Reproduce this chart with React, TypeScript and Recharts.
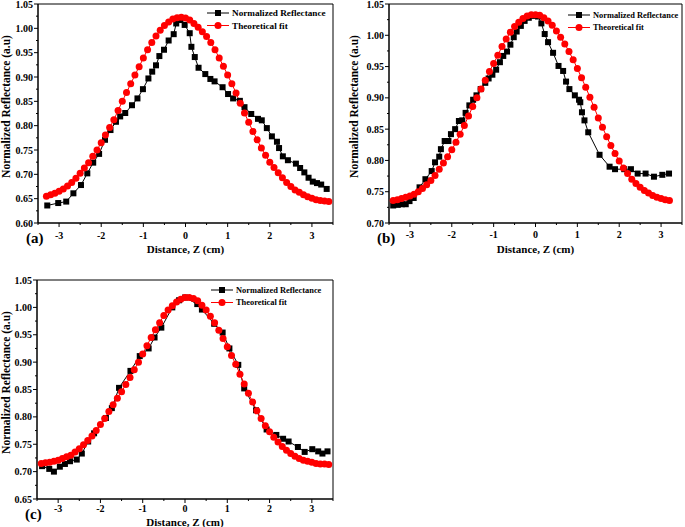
import { LineChart, Line, XAxis, YAxis, Legend, Label, ReferenceArea } from 'recharts';

const FONT = '"Liberation Serif", "Times New Roman", serif';
const RED = '#ff0000';

// x ticks shared by all three panels (integers labelled, halves are minor ticks)
const xTicks = [-3.5, -3, -2.5, -2, -1.5, -1, -0.5, 0, 0.5, 1, 1.5, 2, 2.5, 3, 3.5];

// ---- panel (a)
const aMeasX = [-3.28, -3.02, -2.83, -2.66, -2.48, -2.33, -2.19, -2.05, -1.91, -1.78, -1.65, -1.55, -1.43, -1.27, -1.14, -1.01, -0.88, -0.79, -0.7, -0.62, -0.51, -0.4, -0.28, -0.22, -0.12, -0.02, 0.1, 0.14, 0.22, 0.31, 0.47, 0.59, 0.69, 0.88, 1.01, 1.13, 1.29, 1.4, 1.56, 1.72, 1.81, 1.93, 2.05, 2.17, 2.22, 2.31, 2.43, 2.62, 2.72, 2.82, 2.92, 3.02, 3.12, 3.22, 3.35];
const aMeasY = [0.636, 0.641, 0.644, 0.661, 0.678, 0.702, 0.724, 0.742, 0.771, 0.791, 0.808, 0.819, 0.826, 0.842, 0.856, 0.875, 0.897, 0.911, 0.924, 0.943, 0.956, 0.975, 0.988, 1.01, 1.017, 1.007, 0.99, 0.962, 0.941, 0.919, 0.906, 0.896, 0.891, 0.879, 0.865, 0.856, 0.851, 0.838, 0.824, 0.814, 0.811, 0.795, 0.778, 0.767, 0.754, 0.737, 0.729, 0.722, 0.713, 0.704, 0.693, 0.685, 0.682, 0.679, 0.67];
const aFitX = [-3.3, -3.2, -3.1, -3.0, -2.9, -2.8, -2.7, -2.6, -2.5, -2.4, -2.3, -2.2, -2.1, -2.0, -1.9, -1.8, -1.7, -1.6, -1.5, -1.4, -1.3, -1.2, -1.1, -1.0, -0.9, -0.8, -0.7, -0.6, -0.5, -0.4, -0.3, -0.2, -0.1, 0.0, 0.1, 0.2, 0.3, 0.4, 0.5, 0.6, 0.7, 0.8, 0.9, 1.0, 1.1, 1.2, 1.3, 1.4, 1.5, 1.6, 1.7, 1.8, 1.9, 2.0, 2.1, 2.2, 2.3, 2.4, 2.5, 2.6, 2.7, 2.8, 2.9, 3.0, 3.1, 3.2, 3.3, 3.4];
const aFitY = [0.655, 0.658, 0.661, 0.665, 0.67, 0.676, 0.683, 0.692, 0.702, 0.713, 0.724, 0.737, 0.75, 0.765, 0.781, 0.796, 0.812, 0.831, 0.85, 0.868, 0.886, 0.904, 0.921, 0.939, 0.956, 0.971, 0.984, 0.996, 1.006, 1.013, 1.019, 1.022, 1.023, 1.021, 1.017, 1.01, 1.002, 0.993, 0.983, 0.971, 0.956, 0.939, 0.922, 0.904, 0.886, 0.867, 0.846, 0.826, 0.807, 0.788, 0.771, 0.754, 0.739, 0.725, 0.714, 0.703, 0.693, 0.683, 0.675, 0.668, 0.663, 0.658, 0.654, 0.651, 0.648, 0.646, 0.645, 0.644];
const aYTicks = [0.6, 0.625, 0.65, 0.675, 0.7, 0.725, 0.75, 0.775, 0.8, 0.825, 0.85, 0.875, 0.9, 0.925, 0.95, 0.975, 1.0, 1.025, 1.05];

// ---- panel (b)
const bMeasX = [-3.4, -3.29, -3.19, -3.1, -3.01, -2.91, -2.77, -2.63, -2.48, -2.4, -2.3, -2.26, -2.17, -2.08, -2.02, -1.92, -1.83, -1.75, -1.67, -1.58, -1.49, -1.41, -1.31, -1.2, -1.12, -1.03, -0.94, -0.85, -0.77, -0.68, -0.6, -0.52, -0.45, -0.35, -0.26, -0.16, -0.06, 0.06, 0.14, 0.22, 0.3, 0.42, 0.55, 0.66, 0.73, 0.81, 0.94, 1.04, 1.07, 1.11, 1.17, 1.26, 1.53, 1.77, 1.9, 2.12, 2.28, 2.44, 2.63, 2.83, 3.03, 3.19];
const bMeasY = [0.728, 0.729, 0.73, 0.73, 0.735, 0.74, 0.757, 0.77, 0.783, 0.797, 0.806, 0.818, 0.831, 0.831, 0.842, 0.85, 0.863, 0.864, 0.876, 0.888, 0.897, 0.904, 0.914, 0.924, 0.931, 0.937, 0.945, 0.957, 0.967, 0.974, 0.985, 0.997, 1.006, 1.015, 1.023, 1.028, 1.031, 1.03, 1.019, 1.002, 0.989, 0.972, 0.951, 0.943, 0.926, 0.914, 0.904, 0.897, 0.893, 0.877, 0.864, 0.845, 0.809, 0.79, 0.786, 0.786, 0.786, 0.779, 0.779, 0.774, 0.777, 0.779];
const bFitX = [-3.4, -3.3, -3.2, -3.1, -3.0, -2.9, -2.8, -2.7, -2.6, -2.5, -2.4, -2.3, -2.2, -2.1, -2.0, -1.9, -1.8, -1.7, -1.6, -1.5, -1.4, -1.3, -1.2, -1.1, -1.0, -0.9, -0.8, -0.7, -0.6, -0.5, -0.4, -0.3, -0.2, -0.1, 0.0, 0.1, 0.2, 0.3, 0.4, 0.5, 0.6, 0.7, 0.8, 0.9, 1.0, 1.1, 1.2, 1.3, 1.4, 1.5, 1.6, 1.7, 1.8, 1.9, 2.0, 2.1, 2.2, 2.3, 2.4, 2.5, 2.6, 2.7, 2.8, 2.9, 3.0, 3.1, 3.2];
const bFitY = [0.736, 0.737, 0.739, 0.741, 0.743, 0.746, 0.75, 0.755, 0.761, 0.768, 0.776, 0.786, 0.796, 0.806, 0.817, 0.829, 0.842, 0.856, 0.871, 0.886, 0.9, 0.914, 0.928, 0.942, 0.955, 0.968, 0.982, 0.994, 1.005, 1.014, 1.021, 1.027, 1.031, 1.033, 1.033, 1.032, 1.028, 1.023, 1.016, 1.007, 0.997, 0.986, 0.974, 0.961, 0.947, 0.932, 0.917, 0.901, 0.885, 0.868, 0.853, 0.838, 0.824, 0.811, 0.799, 0.788, 0.779, 0.77, 0.763, 0.757, 0.752, 0.748, 0.744, 0.741, 0.739, 0.737, 0.736];
const bYTicks = [0.7, 0.725, 0.75, 0.775, 0.8, 0.825, 0.85, 0.875, 0.9, 0.925, 0.95, 0.975, 1.0, 1.025, 1.05];

// ---- panel (c)
const cMeasX = [-3.38, -3.21, -3.1, -2.96, -2.84, -2.72, -2.56, -2.44, -2.29, -2.15, -1.87, -1.73, -1.56, -1.29, -1.07, -0.86, -0.72, -0.56, -0.3, -0.14, 0.0, 0.29, 0.4, 0.69, 0.89, 1.05, 1.26, 1.4, 1.68, 1.93, 2.16, 2.32, 2.45, 2.67, 2.83, 3.01, 3.15, 3.25, 3.37];
const cMeasY = [0.71, 0.705, 0.7, 0.709, 0.714, 0.719, 0.722, 0.733, 0.755, 0.77, 0.798, 0.816, 0.853, 0.884, 0.911, 0.925, 0.945, 0.963, 1.0, 1.013, 1.018, 1.006, 0.996, 0.97, 0.954, 0.925, 0.895, 0.852, 0.812, 0.777, 0.767, 0.76, 0.755, 0.745, 0.736, 0.741, 0.737, 0.733, 0.737];
const cFitX = [-3.4, -3.3, -3.2, -3.1, -3.0, -2.9, -2.8, -2.7, -2.6, -2.5, -2.4, -2.3, -2.2, -2.1, -2.0, -1.9, -1.8, -1.7, -1.6, -1.5, -1.4, -1.3, -1.2, -1.1, -1.0, -0.9, -0.8, -0.7, -0.6, -0.5, -0.4, -0.3, -0.2, -0.1, 0.0, 0.1, 0.2, 0.3, 0.4, 0.5, 0.6, 0.7, 0.8, 0.9, 1.0, 1.1, 1.2, 1.3, 1.4, 1.5, 1.6, 1.7, 1.8, 1.9, 2.0, 2.1, 2.2, 2.3, 2.4, 2.5, 2.6, 2.7, 2.8, 2.9, 3.0, 3.1, 3.2, 3.3, 3.4];
const cFitY = [0.715, 0.716, 0.717, 0.719, 0.721, 0.724, 0.727, 0.73, 0.736, 0.742, 0.749, 0.757, 0.765, 0.775, 0.786, 0.797, 0.81, 0.822, 0.834, 0.846, 0.859, 0.872, 0.886, 0.9, 0.915, 0.93, 0.945, 0.959, 0.972, 0.985, 0.995, 1.003, 1.01, 1.015, 1.018, 1.018, 1.016, 1.012, 1.004, 0.995, 0.984, 0.972, 0.958, 0.943, 0.928, 0.912, 0.896, 0.878, 0.86, 0.843, 0.827, 0.811, 0.797, 0.784, 0.773, 0.763, 0.754, 0.746, 0.739, 0.733, 0.728, 0.724, 0.721, 0.719, 0.717, 0.715, 0.714, 0.714, 0.713];
const cYTicks = [0.65, 0.675, 0.7, 0.725, 0.75, 0.775, 0.8, 0.825, 0.85, 0.875, 0.9, 0.925, 0.95, 0.975, 1.0, 1.025, 1.05];

const zip = (xs: number[], ys: number[]) => xs.map((x, i) => ({ x, y: ys[i] }));

const isMajorX = (v: number) => Math.abs(v - Math.round(v)) < 1e-6;
const isMajorY = (v: number) => Math.abs(v * 20 - Math.round(v * 20)) < 1e-6;

function XTick({ x, y, payload, labelDy }: any) {
  const major = isMajorX(payload.value);
  return (
    <g>
      <line x1={x} y1={y} x2={x} y2={y + (major ? 4 : 2)} stroke="#000" />
      {major && (
        <text x={x} y={y + labelDy} textAnchor="middle" fontFamily={FONT} fontWeight="bold" fontSize={10} fill="#000">
          {payload.value}
        </text>
      )}
    </g>
  );
}

function YTick({ x, y, payload }: any) {
  const major = isMajorY(payload.value);
  return (
    <g>
      <line x1={x} y1={y} x2={x - (major ? 4 : 2)} y2={y} stroke="#000" />
      {major && (
        <text x={x - 5} y={y} dy="0.35em" textAnchor="end" fontFamily={FONT} fontWeight="bold" fontSize={10} fill="#000">
          {payload.value.toFixed(2)}
        </text>
      )}
    </g>
  );
}

const Square = (props: any) => {
  const { cx, cy, index } = props;
  return <rect key={`sq-${index}`} x={cx - 3} y={cy - 3} width={6} height={6} fill="#000" />;
};

const Round = (props: any) => {
  const { cx, cy, index } = props;
  return <circle key={`ci-${index}`} cx={cx} cy={cy} r={3.5} fill={RED} />;
};

function LegendBox({ size }: { size: number }) {
  return (
    <svg width={140} height={28} style={{ display: 'block', overflow: 'visible' }}>
      <line x1={0} y1={6} x2={22} y2={6} stroke="#000" />
      <rect x={8} y={3} width={6} height={6} fill="#000" />
      <text x={25} y={6} dy="0.35em" fontFamily={FONT} fontWeight="bold" fontSize={size} fill="#000">
        Normalized Reflectance
      </text>
      <line x1={0} y1={18.5} x2={22} y2={18.5} stroke={RED} />
      <circle cx={11} cy={18.5} r={3.5} fill={RED} />
      <text x={25} y={18.5} dy="0.35em" fontFamily={FONT} fontWeight="bold" fontSize={size} fill="#000">
        Theoretical fit
      </text>
    </svg>
  );
}

interface PanelProps {
  tag: string;
  meas: { x: number; y: number }[];
  fit: { x: number; y: number }[];
  yTicks: number[];
  width: number;
  height: number;
  yAxisWidth: number;
  right: number;
  tickDy: number;
  titleDy: number;
  legendLeft: number;
  legendTop: number;
  legendSize: number;
}

function Panel({ tag, meas, fit, yTicks, width, height, yAxisWidth, right, tickDy, titleDy, legendLeft, legendTop, legendSize }: PanelProps) {
  const yMin = yTicks[0];
  const yMax = yTicks[yTicks.length - 1];
  return (
    <LineChart width={width} height={height} margin={{ top: 4, right, left: 0, bottom: 0 }}>
      <ReferenceArea x1={-3.5} x2={3.5} y1={yMin} y2={yMax} fill="none" stroke="#000" strokeWidth={1} />
      <XAxis
        type="number"
        dataKey="x"
        domain={[-3.5, 3.5]}
        ticks={xTicks}
        interval={0}
        tickSize={0}
        tickMargin={0}
        tick={<XTick labelDy={tickDy} />}
        axisLine={{ stroke: '#000' }}
        height={height - 4 - 219}
      >
        <Label
          content={({ viewBox }: any) => (
            <g>
              <text
                x={viewBox.x + viewBox.width / 2}
                y={viewBox.y + titleDy}
                textAnchor="middle"
                fontFamily={FONT}
                fontWeight="bold"
                fontSize={11}
                fill="#000"
              >
                Distance, Z (cm)
              </text>
              <text x={viewBox.x - 12} y={viewBox.y + 19.5} fontFamily={FONT} fontWeight="bold" fontSize={15} fill="#000">
                {tag}
              </text>
            </g>
          )}
        />
      </XAxis>
      <YAxis
        type="number"
        domain={[yMin, yMax]}
        ticks={yTicks}
        interval={0}
        tickSize={0}
        tickMargin={0}
        tick={<YTick />}
        axisLine={{ stroke: '#000' }}
        width={yAxisWidth}
      >
        <Label
          content={({ viewBox }: any) => {
            const cx = 6;
            const cy = viewBox.y + viewBox.height / 2 - 7;
            return (
              <text
                x={cx}
                y={cy}
                dy="0.35em"
                textAnchor="middle"
                transform={`rotate(-90 ${cx} ${cy})`}
                fontFamily={FONT}
                fontWeight="bold"
                fontSize={11.5}
                fill="#000"
              >
                Normalized Reflectance (a.u)
              </text>
            );
          }}
        />
      </YAxis>
      <Legend
        layout="vertical"
        align="center"
        verticalAlign="middle"
        content={() => <LegendBox size={legendSize} />}
        wrapperStyle={{ left: legendLeft, top: legendTop, width: 140 }}
      />
      <Line
        data={meas}
        dataKey="y"
        name="Normalized Reflectance"
        stroke="#000"
        strokeWidth={1}
        dot={Square}
        isAnimationActive={false}
      />
      <Line
        data={fit}
        dataKey="y"
        name="Theoretical fit"
        stroke={RED}
        strokeWidth={1}
        dot={Round}
        isAnimationActive={false}
      />
    </LineChart>
  );
}

export default function App() {
  return (
    <div style={{ position: 'absolute', left: 0, top: 0, width: 685, height: 527, background: '#fff' }}>
      <div style={{ position: 'absolute', left: 0, top: 0 }}>
        <Panel
          tag="(a)"
          meas={zip(aMeasX, aMeasY)}
          fit={zip(aFitX, aFitY)}
          yTicks={aYTicks}
          width={342}
          height={258}
          yAxisWidth={38}
          right={9}
          tickDy={16}
          titleDy={30}
          legendLeft={207}
          legendTop={7}
          legendSize={9.2}
        />
      </div>
      <div style={{ position: 'absolute', left: 348, top: 0 }}>
        <Panel
          tag="(b)"
          meas={zip(bMeasX, bMeasY)}
          fit={zip(bFitX, bFitY)}
          yTicks={bYTicks}
          width={337}
          height={258}
          yAxisWidth={41}
          right={3}
          tickDy={15}
          titleDy={30}
          legendLeft={220}
          legendTop={9}
          legendSize={8.4}
        />
      </div>
      <div style={{ position: 'absolute', left: 0, top: 276 }}>
        <Panel
          tag="(c)"
          meas={zip(cMeasX, cMeasY)}
          fit={zip(cFitX, cFitY)}
          yTicks={cYTicks}
          width={342}
          height={251}
          yAxisWidth={37}
          right={9}
          tickDy={13}
          titleDy={27}
          legendLeft={211}
          legendTop={8}
          legendSize={8.4}
        />
      </div>
    </div>
  );
}
